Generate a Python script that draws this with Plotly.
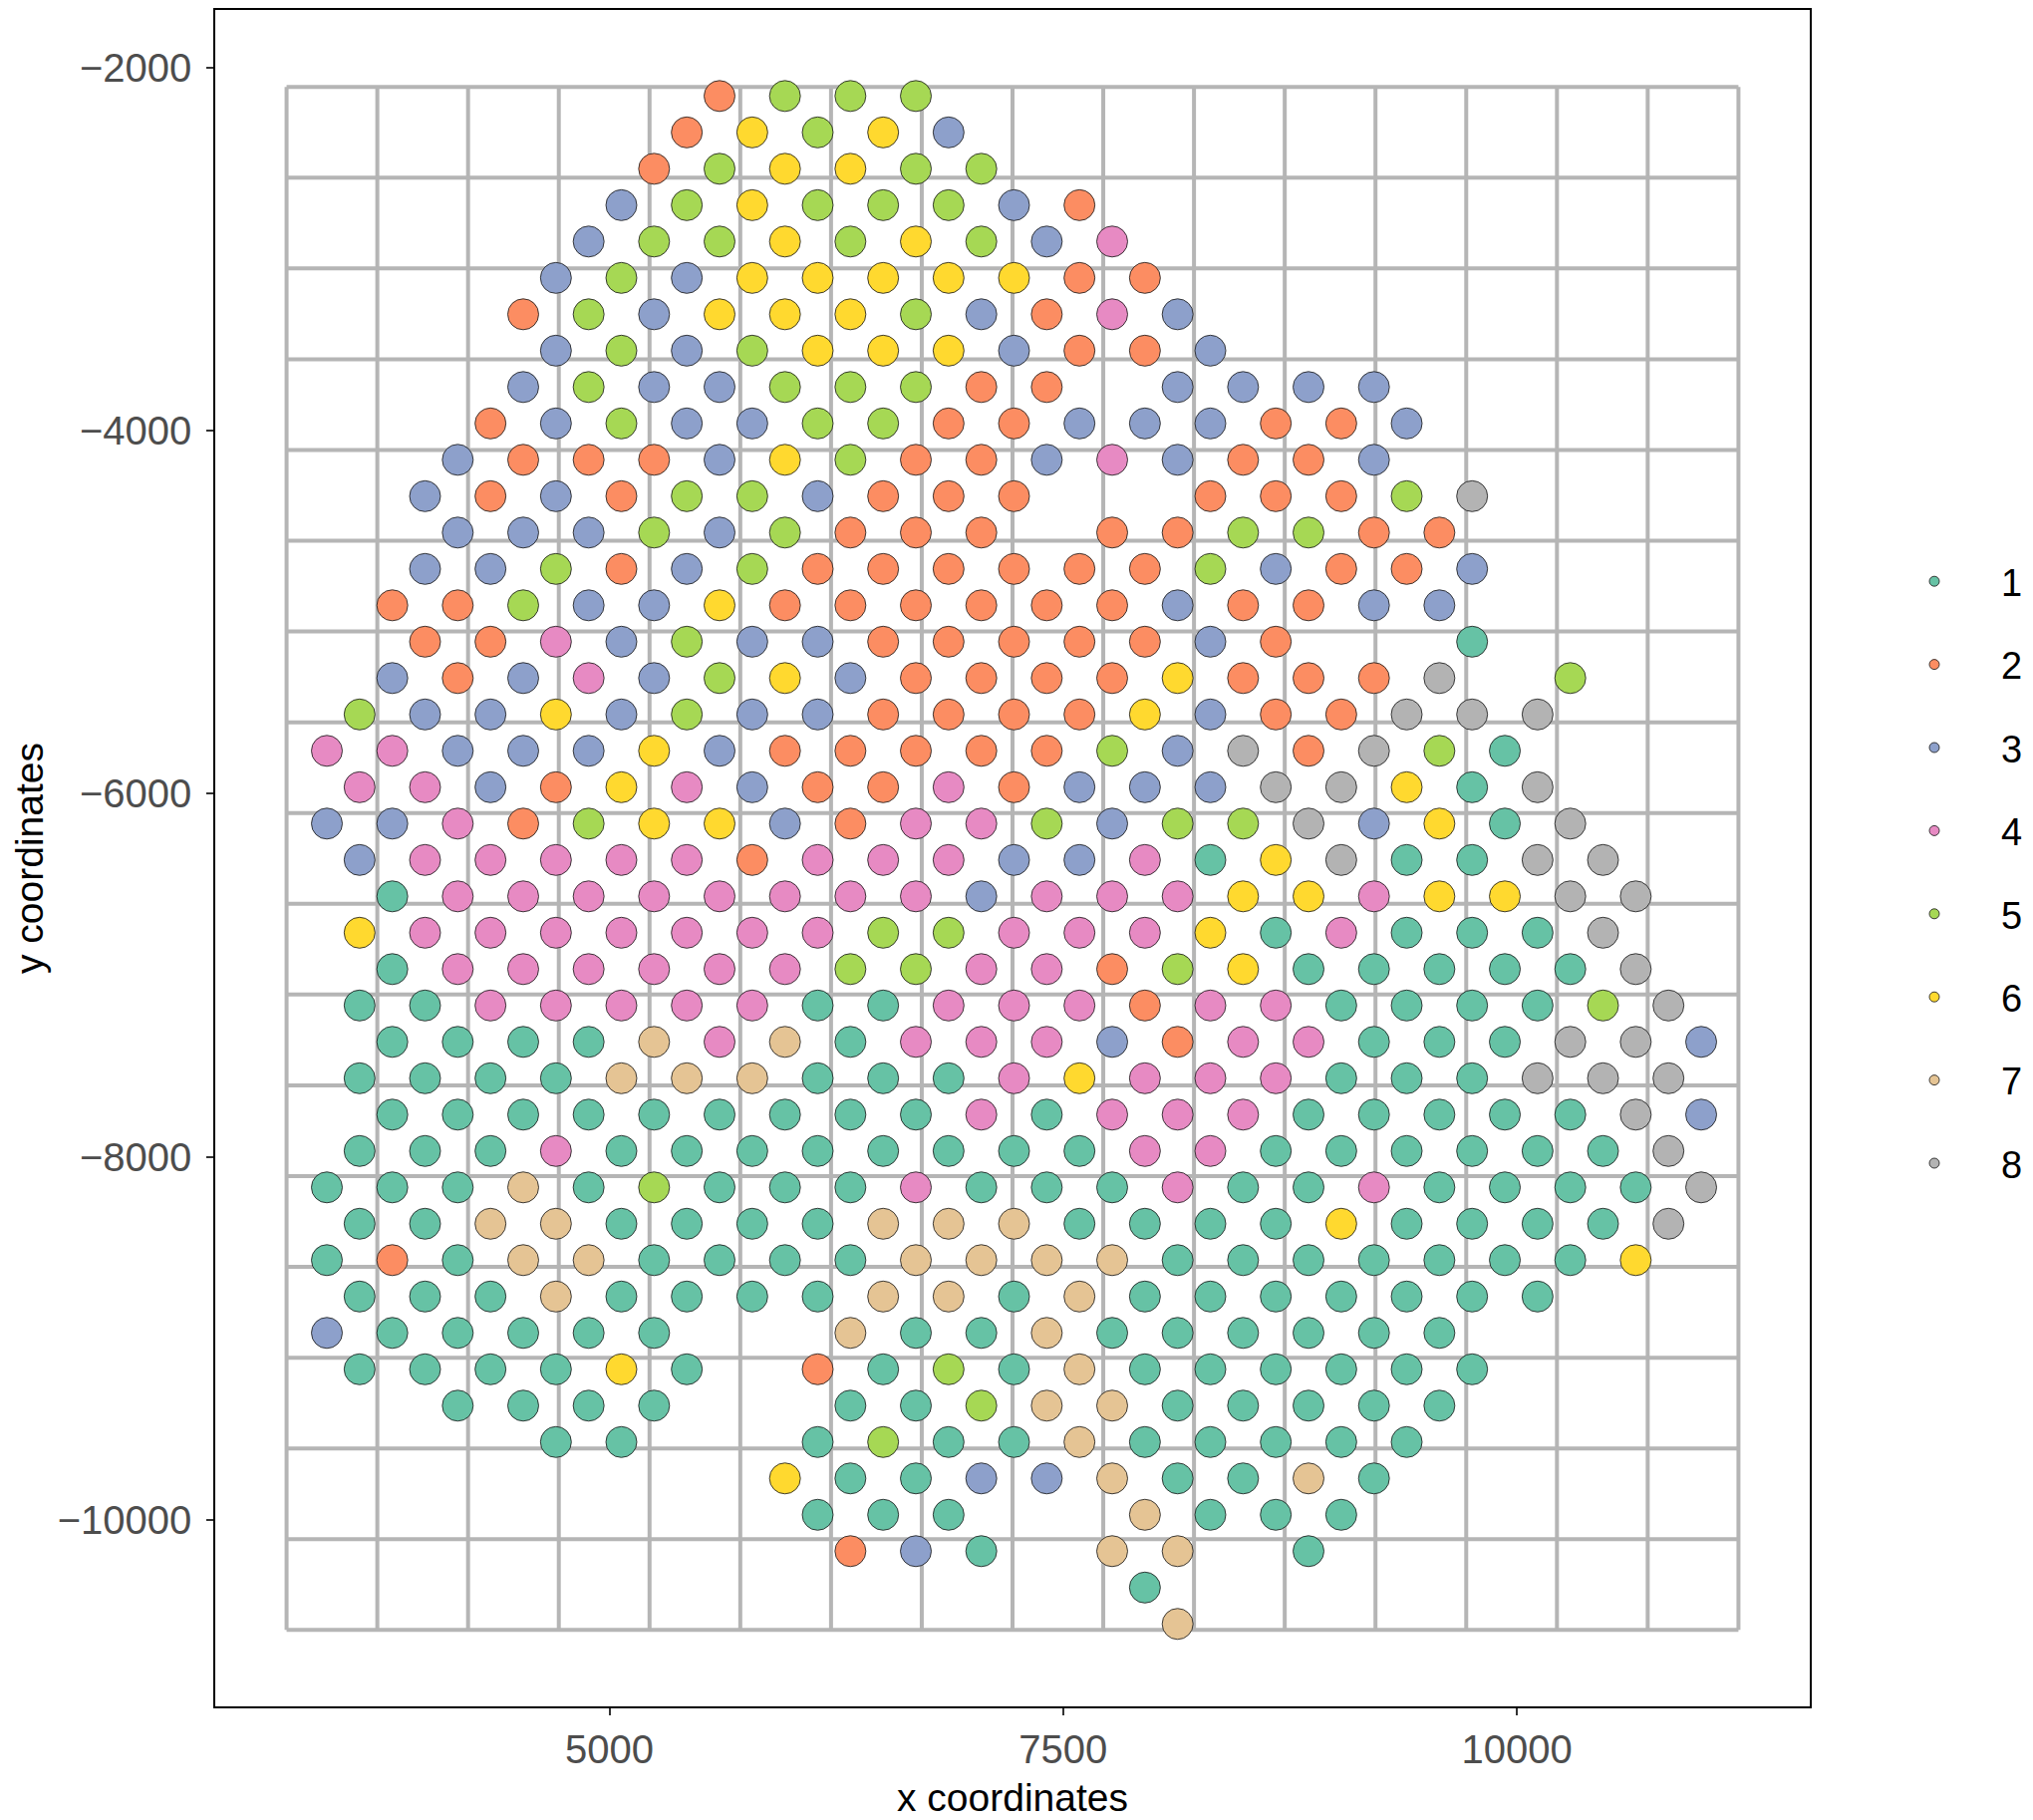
import plotly.graph_objects as go

# ---------------- data ----------------
cluster_names = ["1", "2", "3", "4", "5", "6", "7", "8"]
cluster_colors = ["#66C2A5", "#FC8D62", "#8DA0CB", "#E78AC3",
                  "#A6D854", "#FFD92F", "#E5C494", "#B3B3B3"]

# Spot array: one entry per array row (top to bottom).
# row_first_col = array column of the first spot in the row;
# row_codes = cluster label of every second array column from there ('.' = no spot).
row_first_col = [12, 11, 10, 9, 8, 7, 6, 7, 6, 5, 4, 3, 4, 3, 2, 3, 2, 1, 0, 1, 0,
                 1, 2, 1, 2, 1, 2, 1, 2, 1, 0, 1, 0, 1, 0, 1, 4, 7, 14, 15, 16, 25, 26]
row_codes = [
    "2555",
    "26563",
    "256655",
    "35655532",
    "355656534",
    "3536666622",
    "25366653243",
    "35356663223",
    "353355522.3333",
    "235335522333223",
    "322236522343223",
    "3232553222..22258",
    "333535222.225522",
    "33523522222253223",
    "22533622222232233",
    "22435332222232..1",
    "32343563222262228.5",
    "5336353322226322888",
    "4433363222225382851",
    "4432643224233388618",
    "33425663244535583618",
    "34444424443341681188",
    "14444444434446646688",
    "64444444554446141118",
    "14444445544256111118",
    "114444411444244111158",
    "111174714443244111883",
    "111177711146444111888",
    "111111111414441111183",
    "111411111111441111118",
    "1117151114111411411118",
    "117711117771111611118",
    "121771111777711111116",
    "1117111177171111111",
    "311111..7117111111",
    "111161.21517111111",
    "1111..1157711111",
    "11..1511711111",
    "6113371171",
    "111..7111",
    "231.77.1",
    "1",
    "7",
]

# array -> spatial coordinates
x_origin, x_pitch = 3443.0, 180.3
y_origin, y_pitch = -2157.0, 200.4

# spatial grid
grid_x = [3221, 3721, 4221, 4721, 5221, 5721, 6221, 6721, 7221, 7721, 8221,
          8721, 9221, 9721, 10221, 10721, 11221]
grid_y = [-2107, -2607, -3107, -3607, -4107, -4607, -5107, -5607, -6107, -6607,
          -7107, -7607, -8107, -8607, -9107, -9607, -10107, -10607]

x_ticks = [5000, 7500, 10000]
y_ticks = [-2000, -4000, -6000, -8000, -10000]

# ---------------- build ----------------
pts = {c: ([], []) for c in cluster_names}
for r, (c0, codes) in enumerate(zip(row_first_col, row_codes)):
    for k, ch in enumerate(codes):
        if ch == ".":
            continue
        col = c0 + 2 * k
        pts[ch][0].append(x_origin + col * x_pitch)
        pts[ch][1].append(y_origin - r * y_pitch)

fig = go.Figure()

gx, gy = [], []
for x in grid_x:
    gx += [x, x, None]
    gy += [grid_y[0], grid_y[-1], None]
for y in grid_y:
    gx += [grid_x[0], grid_x[-1], None]
    gy += [y, y, None]
fig.add_trace(go.Scatter(x=gx, y=gy, mode="lines",
                         line=dict(color="#B5B5B5", width=4),
                         hoverinfo="skip", showlegend=False))

outline = dict(color="rgba(30,30,30,0.85)", width=1)
for name, col in zip(cluster_names, cluster_colors):
    xs, ys = pts[name]
    fig.add_trace(go.Scatter(x=xs, y=ys, mode="markers", name=name,
                             marker=dict(size=31, color=col, line=outline),
                             showlegend=False))
for name, col in zip(cluster_names, cluster_colors):
    fig.add_trace(go.Scatter(x=[None], y=[None], mode="markers", name=name,
                             legendgroup=name,
                             marker=dict(size=10, color=col, line=outline),
                             showlegend=True))

axis_common = dict(showgrid=False, zeroline=False, showline=True, mirror=True,
                   linecolor="black", linewidth=1.5, ticks="outside", ticklen=7,
                   tickwidth=1.5, tickcolor="#333333", tickformat="d",
                   tickfont=dict(size=40, color="#4D4D4D"))

fig.update_layout(
    width=2040, height=1826,
    margin=dict(l=208, r=232, t=2, b=122, autoexpand=False),
    plot_bgcolor="white", paper_bgcolor="white",
    font=dict(family="Liberation Sans, Arial, Helvetica, sans-serif", size=39, color="black"),
    xaxis=dict(range=[2828, 11614], tickvals=x_ticks,
               title=dict(text="x coordinates", font=dict(size=39), standoff=14),
               **axis_common),
    yaxis=dict(range=[-11028, -1683], tickvals=y_ticks, ticklabelstandoff=7,
               title=dict(text="y coordinates", font=dict(size=39), standoff=21),
               **axis_common),
    legend=dict(xref="container", yref="container", x=1866 / 2040, xanchor="left",
                y=1 - 544 / 1826, yanchor="top", itemwidth=124, tracegroupgap=31,
                font=dict(size=38), bgcolor="rgba(0,0,0,0)"),
    showlegend=True,
)

fig.write_html("out.html")
